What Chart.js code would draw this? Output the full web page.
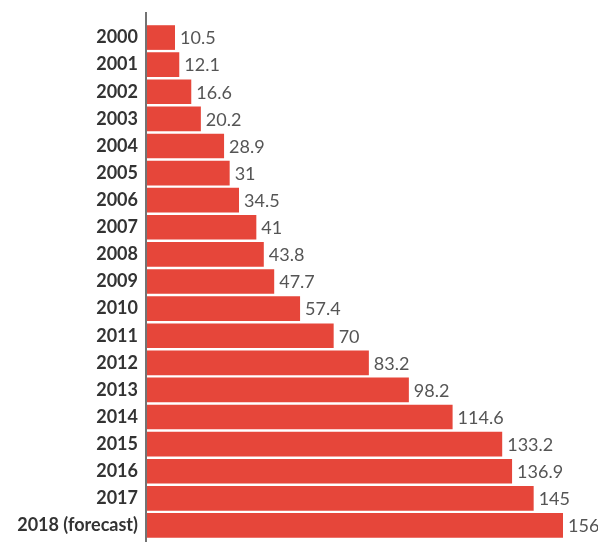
<!DOCTYPE html>
<html><head><meta charset="utf-8">
<script src="https://cdn.jsdelivr.net/npm/chart.js@4"></script>
<style>html,body{margin:0;padding:0;background:#fff;}#wrap{width:598px;height:542px;}</style>
</head><body><div id="wrap"><canvas id="c" width="598" height="542"></canvas></div>
<script>
const categories = ["2000","2001","2002","2003","2004","2005","2006","2007","2008","2009","2010","2011","2012","2013","2014","2015","2016","2017","2018 (forecast)"];
const values = [10.5,12.1,16.6,20.2,28.9,31,34.5,41,43.8,47.7,57.4,70,83.2,98.2,114.6,133.2,136.9,145,156];

const valueLabels = {
  id: 'valueLabels',
  afterDatasetsDraw(chart) {
    const ctx = chart.ctx;
    const meta = chart.getDatasetMeta(0);
    ctx.save();
    ctx.font = '18px Lato';
    ctx.fillStyle = '#555';
    ctx.textAlign = 'left';
    ctx.textBaseline = 'middle';
    meta.data.forEach((bar, i) => {
      ctx.fillText(String(values[i]), bar.x + 5, bar.y + 1);
    });
    ctx.restore();
  }
};
const axisLine = {
  id: 'axisLine',
  afterDraw(chart) {
    const ctx = chart.ctx;
    const x = chart.scales.x.getPixelForValue(0) - 1;
    ctx.save();
    ctx.strokeStyle = '#444';
    ctx.lineWidth = 1.5;
    ctx.beginPath();
    ctx.moveTo(x, 12);
    ctx.lineTo(x, chart.height);
    ctx.stroke();
    ctx.restore();
  }
};

new Chart(document.getElementById('c'), {
  type: 'bar',
  data: { labels: categories, datasets: [{ data: values, backgroundColor: '#e6463a', borderWidth: 0, barPercentage: 0.91, categoryPercentage: 1 }] },
  options: {
    indexAxis: 'y',
    responsive: false,
    animation: false,
    layout: { padding: { top: 24, bottom: 3, right: 11, left: 0 } },
    plugins: { legend: { display: false }, tooltip: { enabled: false } },
    scales: {
      x: { min: 0, max: 165, display: false },
      y: {
        grid: { display: false, drawTicks: false },
        border: { display: false },
        afterFit(scale) { scale.width = 147; scale.paddingTop = 0; scale.paddingBottom = 0; },
        ticks: { color: '#333', font: { family: 'Lato', size: 18, weight: 'bold' }, padding: 9 }
      }
    }
  },
  plugins: [valueLabels, axisLine]
});
</script></body></html>
